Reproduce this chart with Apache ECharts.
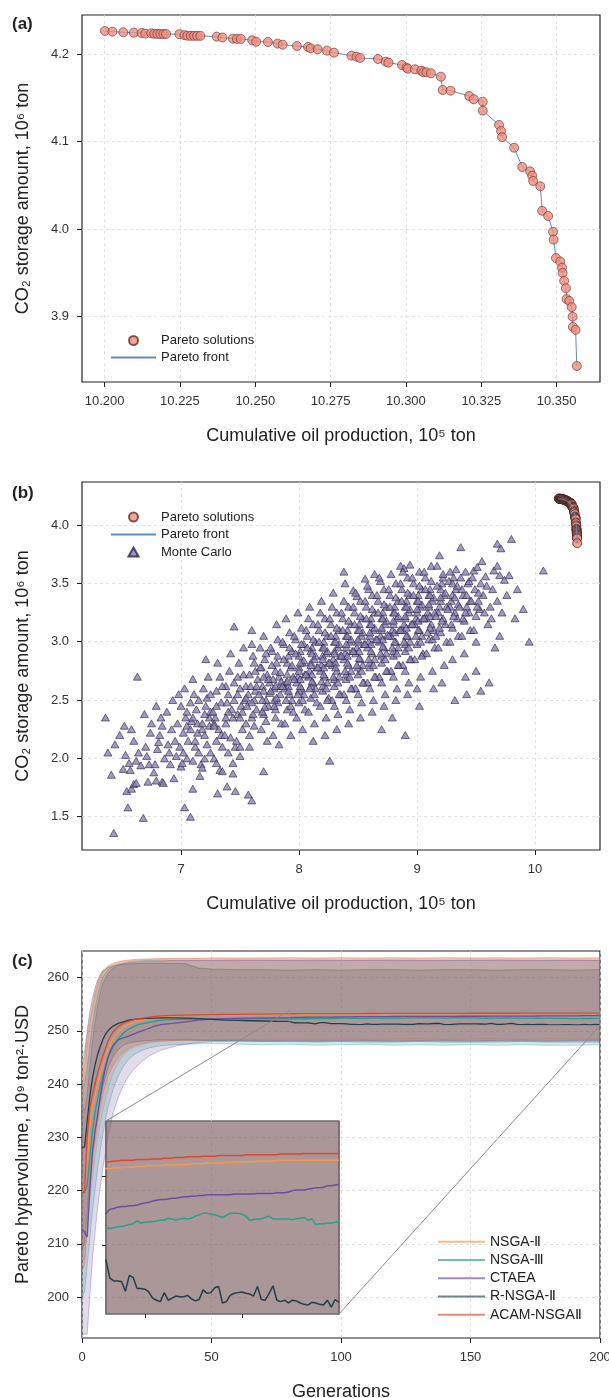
<!DOCTYPE html>
<html><head><meta charset="utf-8">
<script src="https://cdn.jsdelivr.net/npm/echarts@6/dist/echarts.min.js"></script>
<style>html,body{margin:0;padding:0;background:#fff}#c{width:609px;height:1398px}</style>
</head><body><div id="c"></div>
<script>
// ---------------- DATA ----------------
// Panel (a)/(b): Pareto solutions (cumulative oil production 1e5 ton, CO2 storage 1e6 ton)
const paretoX = [10.2001,10.2026,10.2062,10.2097,10.2123,10.2135,10.2155,10.2165,10.2175,10.2185,10.2195,10.2204,10.2248,10.2265,10.2275,10.2286,10.2297,10.2307,10.2318,10.2372,10.2391,10.2426,10.2439,10.2452,10.2490,10.2503,10.2542,10.2574,10.2591,10.2638,10.2675,10.2684,10.2707,10.2738,10.2761,10.2819,10.2836,10.2848,10.2907,10.2933,10.2942,10.2987,10.3002,10.3006,10.3030,10.3051,10.3058,10.3068,10.3083,10.3116,10.3122,10.3148,10.3210,10.3225,10.3255,10.3255,10.3309,10.3316,10.3319,10.3359,10.3386,10.3412,10.3419,10.3422,10.3446,10.3452,10.3472,10.3488,10.3490,10.3498,10.3512,10.3518,10.3520,10.3525,10.3531,10.3533,10.3542,10.3550,10.3553,10.3554,10.3563,10.3567];
const paretoY = [4.2263,4.2255,4.2248,4.2243,4.2240,4.2233,4.2236,4.2230,4.2230,4.2228,4.2228,4.2228,4.2226,4.2215,4.2208,4.2207,4.2207,4.2207,4.2207,4.2198,4.2188,4.2175,4.2172,4.2172,4.2156,4.2140,4.2137,4.2118,4.2106,4.2091,4.2080,4.2065,4.2054,4.2038,4.2015,4.1981,4.1969,4.1954,4.1943,4.1912,4.1901,4.1874,4.1844,4.1832,4.1825,4.1809,4.1791,4.1791,4.1780,4.1741,4.1589,4.1581,4.1520,4.1483,4.1456,4.1353,4.1190,4.1120,4.1050,4.0930,4.0710,4.0660,4.0610,4.0550,4.0490,4.0210,4.0150,3.9970,3.9880,3.9670,3.9630,3.9560,3.9500,3.9410,3.9325,3.9203,3.9180,3.9110,3.9000,3.8883,3.8850,3.8438];

// Panel (b): Monte Carlo samples [oil, CO2]
const monteCarlo = [
[6.36,2.35],[6.38,2.05],[6.41,1.86],[6.43,1.36],[6.44,2.12],
[6.51,1.91],[6.53,2.03],[6.55,1.58],[6.54,1.72],[6.48,2.2],[6.52,2.28],
[6.56,1.96],[6.57,1.9],[6.58,1.74],[6.6,1.78],[6.62,1.79],[6.63,2.7],[6.6,2.15],[6.64,2.05],[6.58,2.25],[6.62,1.98],
[6.66,1.94],[6.68,1.49],[6.72,1.8],[6.73,1.95],[6.7,2.1],[6.74,2.22],[6.69,2.38],[6.71,2.02],[6.75,2.3],
[6.77,1.88],[6.78,1.95],[6.79,1.81],[6.84,1.8],[6.85,1.79],[6.8,2.08],[6.82,2.2],[6.83,2.35],[6.79,2.45],[6.86,2.0],[6.81,2.14],[6.84,2.28],
[6.94,1.83],[6.9,2.05],[6.92,2.25],[6.88,2.4],[6.95,2.15],[6.91,1.95],[6.97,2.3],[6.93,2.5],[6.89,2.12],[6.96,2.02],
[7.0,1.93],[7.01,1.96],[7.03,1.58],[6.99,2.1],[7.02,2.22],[7.04,2.35],[7.05,2.0],[7.0,2.45],[7.03,2.6],[7.06,2.15],[7.02,2.05],[7.05,2.28],[6.98,2.55],
[7.08,1.5],[7.1,1.74],[7.16,1.85],[7.1,1.98],[7.12,2.1],[7.14,2.22],[7.09,2.32],[7.13,2.42],[7.11,2.55],[7.15,2.05],[7.1,2.68],[7.14,2.3],[7.17,1.95],[7.12,2.15],[7.08,2.25],
[7.2,2.0],[7.22,2.12],[7.18,2.25],[7.24,2.35],[7.21,2.45],[7.19,2.6],[7.23,2.7],[7.2,2.2],[7.25,2.05],[7.22,2.52],[7.18,1.92],[7.24,2.28],[7.21,2.85],[7.25,2.4],
[7.31,1.7],[7.33,1.9],[7.35,1.89],[7.28,2.0],[7.3,2.15],[7.32,2.25],[7.29,2.35],[7.34,2.48],[7.3,2.58],[7.33,2.7],[7.27,2.4],[7.35,2.1],[7.31,2.82],[7.28,2.3],[7.34,2.2],[7.3,1.96],
[7.39,1.76],[7.44,1.87],[7.44,1.96],[7.46,1.72],[7.45,3.13],[7.4,2.05],[7.42,2.18],[7.38,2.3],[7.43,2.42],[7.4,2.55],[7.45,2.65],[7.41,2.75],[7.37,2.2],[7.44,2.35],[7.39,2.48],[7.42,2.9],[7.46,2.1],[7.38,2.62],
[7.5,2.1],[7.52,2.25],[7.48,2.38],[7.54,2.5],[7.5,2.6],[7.53,2.72],[7.49,2.82],[7.55,2.3],[7.51,2.45],[7.47,2.15],[7.53,2.95],[7.5,2.02],[7.55,2.62],[7.48,2.55],[7.52,2.4],
[7.57,1.69],[7.6,1.64],[7.58,2.2],[7.6,2.35],[7.62,2.5],[7.59,2.62],[7.63,2.75],[7.61,2.88],[7.64,2.42],[7.57,2.55],[7.6,2.98],[7.62,2.28],[7.65,2.68],[7.58,2.1],[7.63,2.58],[7.6,3.1],
[7.7,1.89],[7.68,2.25],[7.7,2.38],[7.72,2.5],[7.69,2.62],[7.73,2.72],[7.71,2.85],[7.67,2.95],[7.74,2.45],[7.7,2.58],[7.72,2.32],[7.68,2.78],[7.75,2.65],[7.7,3.05],[7.73,2.15],[7.69,2.5],
[7.78,2.2],[7.8,2.35],[7.82,2.48],[7.79,2.6],[7.83,2.7],[7.81,2.82],[7.77,2.92],[7.84,2.55],[7.8,2.42],[7.82,3.02],[7.78,2.68],[7.85,2.3],[7.8,2.75],[7.83,2.12],[7.79,2.5],[7.81,3.15],[7.84,2.62],
[7.88,2.3],[7.9,2.42],[7.92,2.55],[7.89,2.65],[7.93,2.78],[7.91,2.88],[7.87,2.98],[7.94,2.5],[7.9,2.72],[7.92,3.08],[7.88,2.6],[7.95,2.4],[7.9,2.82],[7.93,2.2],[7.89,3.2],[7.91,2.62],[7.94,2.92],
[7.98,2.35],[8.0,2.48],[8.02,2.6],[7.99,2.7],[8.03,2.82],[8.01,2.92],[7.97,3.02],[8.04,2.55],[8.0,2.78],[8.02,3.12],[7.98,2.65],[8.05,2.42],[8.0,2.88],[8.03,2.25],[7.99,3.25],[8.01,2.68],[8.04,2.98],[8.0,2.58],
[8.08,2.4],[8.1,2.52],[8.12,2.65],[8.09,2.75],[8.13,2.85],[8.11,2.95],[8.07,3.05],[8.14,2.6],[8.1,2.82],[8.12,3.15],[8.08,2.7],[8.15,2.48],[8.1,2.92],[8.13,2.3],[8.09,3.3],[8.11,2.72],[8.14,3.0],[8.1,2.62],[8.12,2.15],
[8.18,2.45],[8.2,2.58],[8.22,2.7],[8.19,2.8],[8.23,2.9],[8.21,3.0],[8.17,3.1],[8.24,2.65],[8.2,2.88],[8.22,3.2],[8.18,2.75],[8.25,2.52],[8.2,2.95],[8.23,2.35],[8.19,3.35],[8.26,1.98],[8.21,2.78],[8.24,3.05],[8.2,2.62],[8.22,2.2],
[8.28,2.5],[8.3,2.62],[8.32,2.75],[8.29,2.85],[8.33,2.95],[8.31,3.05],[8.27,3.15],[8.34,2.7],[8.3,2.92],[8.32,3.25],[8.28,2.8],[8.35,2.55],[8.3,3.0],[8.33,2.38],[8.29,3.42],[8.31,2.82],[8.34,3.1],[8.3,2.68],[8.32,2.25],
[8.38,2.55],[8.4,2.68],[8.42,2.8],[8.39,2.9],[8.43,3.0],[8.41,3.1],[8.37,3.2],[8.44,2.75],[8.4,2.95],[8.42,3.3],[8.38,2.85],[8.45,2.6],[8.4,3.05],[8.43,2.42],[8.39,3.5],[8.46,3.44],[8.41,2.88],[8.44,3.15],[8.4,2.72],[8.42,2.3],[8.38,3.6],
[8.49,3.39],[8.48,2.6],[8.5,2.72],[8.52,2.85],[8.49,2.95],[8.53,3.05],[8.51,3.15],[8.47,3.25],[8.54,2.8],[8.5,3.0],[8.52,3.35],[8.48,2.9],[8.55,2.65],[8.5,3.1],[8.53,2.48],[8.56,3.54],[8.51,2.92],[8.54,3.2],[8.5,2.78],[8.52,2.35],
[8.64,3.58],[8.58,2.65],[8.6,2.78],[8.62,2.9],[8.59,3.0],[8.63,3.1],[8.61,3.2],[8.57,3.3],[8.64,2.85],[8.6,3.05],[8.62,3.4],[8.58,2.95],[8.65,2.7],[8.6,3.15],[8.63,2.5],[8.61,2.98],[8.64,3.25],[8.6,2.82],[8.62,2.4],[8.59,3.45],
[8.68,2.7],[8.7,2.82],[8.72,2.95],[8.69,3.05],[8.73,3.15],[8.71,3.25],[8.67,3.35],[8.74,2.9],[8.7,3.1],[8.72,3.45],[8.68,3.0],[8.75,2.75],[8.7,3.2],[8.73,2.55],[8.71,3.02],[8.74,3.3],[8.7,2.88],[8.72,2.45],[8.69,3.52],[8.7,2.25],
[8.78,2.75],[8.8,2.88],[8.82,3.0],[8.79,3.1],[8.83,3.2],[8.81,3.3],[8.77,3.4],[8.84,2.95],[8.8,3.15],[8.82,3.5],[8.78,3.05],[8.85,2.8],[8.8,3.25],[8.83,2.6],[8.81,3.08],[8.84,3.35],[8.8,2.92],[8.82,2.5],[8.86,3.65],[8.79,2.35],
[8.89,3.63],[8.94,3.66],[8.88,2.8],[8.9,2.92],[8.92,3.05],[8.89,3.15],[8.93,3.25],[8.91,3.35],[8.87,3.45],[8.94,3.0],[8.9,3.2],[8.92,3.55],[8.88,3.1],[8.95,2.85],[8.9,3.3],[8.93,2.65],[8.91,3.12],[8.94,3.4],[8.9,2.98],[8.92,2.55],[8.9,2.2],
[8.98,2.85],[9.0,2.98],[9.02,3.1],[8.99,3.2],[9.03,3.3],[9.01,3.4],[8.97,3.5],[9.04,3.05],[9.0,3.25],[9.02,3.6],[8.98,3.15],[9.05,2.9],[9.0,3.35],[9.03,2.7],[9.01,3.18],[9.04,3.45],[9.0,2.6],[9.02,2.45],
[9.08,2.9],[9.1,3.02],[9.12,3.15],[9.09,3.25],[9.13,3.35],[9.11,3.45],[9.07,3.55],[9.14,3.1],[9.1,3.3],[9.12,3.65],[9.08,3.2],[9.15,2.95],[9.1,3.4],[9.13,2.75],[9.11,3.22],[9.14,2.6],
[9.19,3.74],[9.17,3.65],[9.18,2.95],[9.2,3.08],[9.22,3.2],[9.19,3.3],[9.23,3.4],[9.21,3.5],[9.24,3.15],[9.2,3.35],[9.18,3.25],[9.25,3.0],[9.2,3.45],[9.23,2.8],[9.21,2.65],[9.22,3.55],
[9.28,3.6],[9.28,3.0],[9.3,3.12],[9.32,3.25],[9.29,3.35],[9.33,3.45],[9.31,3.55],[9.34,3.2],[9.3,3.4],[9.28,3.3],[9.35,3.05],[9.3,2.85],[9.32,2.5],[9.33,3.62],
[9.37,3.81],[9.38,3.05],[9.4,3.18],[9.42,3.3],[9.39,3.4],[9.43,3.5],[9.41,3.6],[9.44,3.25],[9.4,2.9],[9.42,2.55],[9.38,3.45],[9.45,3.1],[9.41,2.7],
[9.48,3.61],[9.55,3.69],[9.51,3.64],[9.58,3.56],[9.48,3.1],[9.5,3.22],[9.52,3.35],[9.49,3.45],[9.53,3.28],[9.5,3.0],[9.54,2.58],[9.5,2.75],[9.56,3.4],
[9.65,3.61],[9.68,3.65],[9.7,3.57],[9.62,3.3],[9.6,3.15],[9.64,3.45],[9.66,2.95],[9.61,2.65],[9.68,3.35],[9.63,3.2],[9.68,3.84],[9.71,3.8],[9.74,3.53],[9.78,3.57],[9.72,3.25],[9.76,3.4],[9.7,3.05],
[9.8,3.88],[9.83,3.2],[9.9,3.28],[10.07,3.61],[9.85,3.45],[9.95,3.0],
[7.05,2.4],[7.1,2.35],[7.15,2.5],[7.2,2.38],[7.25,2.55],[7.3,2.45],[7.35,2.62],[7.4,2.4],[7.45,2.5],[7.5,2.35],[7.28,2.28],[7.18,2.3],[7.38,2.35],[7.48,2.7],[7.08,2.48],
[7.56,2.45],[7.61,2.38],[7.64,2.62],[7.58,2.72],[7.62,2.82],[7.55,2.52],[7.6,2.48],
[7.66,2.55],[7.71,2.44],[7.74,2.68],[7.67,2.78],[7.72,2.9],[7.69,2.4],[7.75,2.56],[7.7,2.7],
[7.76,2.58],[7.81,2.52],[7.84,2.74],[7.77,2.8],[7.82,2.88],[7.79,2.45],[7.85,2.66],[7.8,2.62],[7.76,2.95],
[7.86,2.62],[7.91,2.58],[7.94,2.8],[7.87,2.85],[7.92,2.95],[7.89,2.5],[7.95,2.7],[7.9,2.66],[7.86,3.0],[7.93,2.45],
[7.96,2.68],[8.01,2.62],[8.04,2.84],[7.97,2.9],[8.02,2.98],[7.99,2.55],[8.05,2.72],[8.0,2.75],[7.96,3.05],[8.03,2.5],[8.01,2.82],
[8.06,2.72],[8.11,2.66],[8.14,2.88],[8.07,2.95],[8.12,3.02],[8.09,2.6],[8.15,2.78],[8.1,2.8],[8.06,3.1],[8.13,2.55],[8.11,2.9],[8.08,3.2],
[8.16,2.78],[8.21,2.72],[8.24,2.92],[8.17,3.0],[8.22,3.08],[8.19,2.66],[8.25,2.82],[8.2,2.85],[8.16,3.15],[8.23,2.6],[8.21,2.95],[8.18,3.25],[8.24,2.5],
[8.26,2.82],[8.31,2.78],[8.34,2.98],[8.27,3.05],[8.32,3.12],[8.29,2.7],[8.35,2.88],[8.3,2.9],[8.26,3.2],[8.33,2.65],[8.31,3.0],[8.28,3.3],[8.34,2.55],[8.3,2.45],
[8.36,2.88],[8.41,2.82],[8.44,3.02],[8.37,3.1],[8.42,3.18],[8.39,2.75],[8.45,2.92],[8.4,2.98],[8.36,3.25],[8.43,2.7],[8.41,3.05],[8.38,3.35],[8.44,2.6],[8.4,2.5],
[8.46,2.92],[8.51,2.86],[8.54,3.08],[8.47,3.15],[8.52,3.22],[8.49,2.8],[8.55,2.98],[8.5,3.02],[8.46,3.3],[8.53,2.75],[8.51,3.1],[8.48,3.42],[8.54,2.65],[8.5,2.55],
[8.56,2.98],[8.61,2.92],[8.64,3.12],[8.57,3.2],[8.62,3.28],[8.59,2.85],[8.65,3.02],[8.6,3.08],[8.56,3.35],[8.63,2.8],[8.61,3.15],[8.58,3.48],[8.64,2.7],[8.6,2.6],
[8.66,3.02],[8.71,2.96],[8.74,3.18],[8.67,3.25],[8.72,3.32],[8.69,2.9],[8.75,3.06],[8.7,3.12],[8.66,3.4],[8.73,2.85],[8.71,3.2],[8.68,3.55],[8.74,2.75],[8.7,2.65],
[8.76,3.05],[8.81,3.0],[8.84,3.22],[8.77,3.3],[8.82,3.38],[8.79,2.95],[8.85,3.1],[8.8,3.18],[8.76,3.45],[8.83,2.9],[8.81,3.25],[8.78,3.58],[8.84,2.8],[8.8,2.7],
[8.86,3.1],[8.91,3.05],[8.94,3.28],[8.87,3.35],[8.92,3.42],[8.89,3.0],[8.95,3.15],[8.9,3.22],[8.86,3.5],[8.93,2.95],[8.91,3.3],[8.88,3.6],[8.94,2.85],[8.9,2.75],
[8.96,3.15],[9.01,3.1],[9.04,3.32],[8.97,3.4],[9.02,3.48],[8.99,3.05],[9.05,3.2],[9.0,3.28],[8.96,3.55],[9.03,3.0],[9.01,3.35],[9.04,2.88],
[9.06,3.2],[9.11,3.12],[9.14,3.38],[9.07,3.45],[9.12,3.52],[9.09,3.08],[9.15,3.25],[9.1,3.32],[9.06,3.6],[9.13,3.02],[9.11,3.4],
[9.16,3.22],[9.21,3.18],[9.24,3.42],[9.17,3.48],[9.22,3.58],[9.19,3.12],[9.25,3.3],[9.2,3.38],[9.16,3.05],
[9.26,3.28],[9.31,3.22],[9.34,3.48],[9.27,3.52],[9.32,3.38],[9.29,3.15],[9.35,3.32],[9.3,3.5],
[9.36,3.3],[9.41,3.25],[9.44,3.52],[9.37,3.55],[9.42,3.4],[9.39,3.2],[9.45,3.35],
[9.46,3.35],[9.51,3.3],[9.54,3.5],[9.47,3.55],[9.52,3.42],[9.57,3.25],[9.59,3.48]
];

// Panel (c): generations and mean Pareto hypervolume per algorithm
const gens = [0,1,2,3,4,5,6,7,8,9,10,11,12,14,16,18,20,22,25,28,31,35,40,45,50,55,60,65,70,75,
80,82,84,86,88,90,92,94,96,98,100,102,104,106,108,110,112,114,116,118,120,122,124,126,128,130,132,134,136,138,140,142,144,146,148,150,152,154,156,158,160,162,164,166,168,170,172,174,176,178,180,182,184,186,188,190,192,194,196,198,200];
const meanNSGA2 = [219.6,220.2,226,232,235.5,237.8,240,241.8,243.5,245,246.4,247.5,248.5,249.8,250.6,251.2,251.6,251.9,252.2,252.5,252.65,252.8,252.85,252.9,252.95,253.0,253.02,253.05,253.07,253.09,
253.11,253.11,253.12,253.12,253.12,253.13,253.13,253.13,253.14,253.14,
253.14,253.15,253.15,253.15,253.15,253.16,253.16,253.16,253.17,253.17,
253.17,253.17,253.18,253.18,253.18,253.18,253.19,253.19,253.19,253.19,
253.19,253.20,253.20,253.20,253.20,253.21,253.21,253.21,253.21,253.22,
253.22,253.22,253.22,253.22,253.23,253.23,253.23,253.23,253.23,253.23,
253.23,253.23,253.23,253.23,253.23,253.23,253.23,253.23,253.23,253.23,253.23];
const meanNSGA3 = [219.4,219.7,221,226,231,234.5,237,239.5,241.5,243.3,244.8,246,247,248.5,249.6,250.3,250.8,251.2,251.5,251.8,252.0,252.1,252.15,252.2,252.22,252.23,252.24,252.25,252.25,252.26,
252.26,252.24,252.25,252.27,252.27,252.28,252.30,252.31,252.35,252.32,
252.33,252.34,252.34,252.35,252.36,252.36,252.39,252.38,252.36,252.38,
252.39,252.38,252.39,252.42,252.44,252.46,252.46,252.45,252.44,252.42,
252.40,252.43,252.46,252.46,252.46,252.45,252.42,252.36,252.37,252.38,
252.38,252.40,252.42,252.38,252.38,252.38,252.38,252.38,252.37,252.38,
252.39,252.40,252.36,252.38,252.30,252.31,252.31,252.32,252.32,252.33,252.33];
const meanCTAEA = [212.8,212.2,211.3,220,227,231,234,237.5,240.5,243,245,246.3,247.3,248.3,248.7,249.0,249.4,249.8,250.3,250.9,251.2,251.4,251.7,252.0,252.2,252.28,252.33,252.38,252.42,252.44,
252.46,252.52,252.53,252.55,252.56,252.56,252.57,252.57,252.58,252.60,
252.61,252.62,252.64,252.65,252.66,252.66,252.67,252.68,252.68,252.69,
252.70,252.70,252.71,252.71,252.72,252.72,252.73,252.73,252.73,252.73,
252.73,252.73,252.73,252.74,252.74,252.74,252.74,252.74,252.74,252.75,
252.75,252.75,252.75,252.75,252.76,252.76,252.76,252.77,252.79,252.80,
252.80,252.80,252.81,252.82,252.83,252.83,252.84,252.86,252.86,252.87,252.88];
const meanRNSGA2 = [228,228.2,233,237.5,241,243.5,245.5,247,248.3,249.3,250,250.5,250.9,251.4,251.7,252.0,252.15,252.25,252.35,252.4,252.45,252.45,252.4,252.3,252.15,252.0,251.95,251.9,251.85,251.8,
251.78,251.52,251.48,251.48,251.47,251.33,251.56,251.53,251.37,251.37,
251.36,251.32,251.23,251.20,251.18,251.31,251.20,251.23,251.26,251.25,
251.25,251.27,251.22,251.19,251.21,251.35,251.30,251.31,251.38,251.40,
251.16,251.18,251.27,251.30,251.31,251.32,251.30,251.29,251.26,251.40,
251.21,251.20,251.30,251.41,251.20,251.18,251.20,251.16,251.20,251.19,
251.16,251.14,251.13,251.17,251.16,251.14,251.13,251.20,251.10,251.21,251.17];
const meanACAM = [219.5,220,230,235.5,237.8,240,242,243.8,245.2,246.6,248,249,249.8,250.8,251.4,251.8,252.1,252.3,252.5,252.7,252.8,252.9,252.95,253.0,253.05,253.08,253.1,253.13,253.15,253.18,
253.20,253.21,253.22,253.22,253.23,253.23,253.23,253.23,253.24,253.24,
253.24,253.24,253.25,253.25,253.25,253.26,253.26,253.26,253.27,253.27,
253.27,253.28,253.28,253.28,253.28,253.29,253.29,253.29,253.29,253.30,
253.30,253.30,253.30,253.30,253.30,253.30,253.31,253.31,253.31,253.31,
253.31,253.31,253.31,253.31,253.31,253.32,253.32,253.32,253.32,253.32,
253.32,253.33,253.33,253.33,253.33,253.33,253.33,253.33,253.33,253.33,253.33];

// Panel (c): spread bands (lower / upper) per algorithm
const bandGens = [0,1,2,3,4,5,6,7,8,10,12,14,16,18,20,23,26,30,35,40,45,50,60,70,80,90,100,110,120,130,140,150,160,170,180,190,200];
const loNSGA2 = [207,207,212,218,222,226,229.5,232.5,235,239,242,244,245.5,246.3,246.9,247.4,247.7,248.0,248.1,248.2,248.2,248.25,248.3,248.2,248.3,248.2,248.3,248.25,248.3,248.2,248.3,248.3,248.2,248.3,248.25,248.3,248.3];
const hiNSGA2 = [242,243,247,251,254,256.5,258.5,260,261,262,262.6,262.9,263.1,263.2,263.3,263.4,263.5,263.55,263.6,263.6,263.6,263.65,263.6,263.65,263.6,263.65,263.6,263.6,263.65,263.6,263.6,263.65,263.6,263.6,263.65,263.6,263.6];
const loNSGA3 = [200,201,206,211,216,220,224,227.5,230.5,235.5,239,241.5,243.3,244.6,245.5,246.3,246.8,247.2,247.4,247.5,247.55,247.6,247.5,247.4,247.5,247.3,247.4,247.5,247.3,247.4,247.3,247.4,247.3,247.4,247.3,247.3,247.4];
const hiNSGA3 = [240,240,243,247,251,254,256.5,258.5,260,261.5,262.2,262.6,262.8,263,263.1,263.2,263.25,263.3,263.3,263.3,263.3,263.3,263.35,263.3,263.3,263.35,263.3,263.3,263.35,263.3,263.3,263.3,263.35,263.3,263.3,263.3,263.3];
const loCTAEA = [193,193,193,200,207,212,216.5,220.5,224,230,234.5,237.5,239.8,241.5,242.8,244.2,245.3,246.3,247,247.5,247.8,248,248.1,248.1,248.2,248.1,248.2,248.2,248.1,248.2,248.2,248.1,248.2,248.2,248.1,248.2,248.2];
const hiCTAEA = [236,235,238,243,248,251.5,254.5,257,258.8,260.8,261.8,262.3,262.6,262.8,262.9,263.0,263.1,263.1,263.2,263.2,263.2,263.2,263.2,263.25,263.2,263.2,263.2,263.25,263.2,263.2,263.2,263.25,263.2,263.2,263.2,263.25,263.2];
const loRNSGA2 = [209,210,216,222,227,231,234,237,239.5,243,245.2,246.5,247.3,247.7,247.9,248.1,248.2,248.3,248.3,248.3,248.25,248.2,248.1,248.0,248.0,247.9,248.0,247.9,247.9,248.0,247.9,247.9,247.9,248.0,247.9,247.9,247.9];
const hiRNSGA2 = [246,246,250,253.5,256,258,259.5,260.5,261.2,261.9,262.2,262.4,262.5,262.6,262.6,262.7,262.7,262.7,262.7,262.6,261.8,261.6,261.5,261.5,261.4,261.5,261.4,261.5,261.5,261.4,261.5,261.5,261.4,261.5,261.5,261.4,261.5];
const loACAM = [205,206,213,220,225,229,232.5,235.5,238,241.5,243.5,245,246,246.7,247.2,247.6,247.9,248.1,248.2,248.3,248.3,248.4,248.4,248.4,248.5,248.4,248.5,248.4,248.5,248.5,248.4,248.5,248.5,248.4,248.5,248.5,248.5];
const hiACAM = [244,245,249,252,254.5,257,259,260.5,261.3,262.2,262.7,263.0,263.2,263.3,263.4,263.5,263.5,263.55,263.6,263.6,263.65,263.7,263.7,263.7,263.75,263.7,263.75,263.7,263.75,263.7,263.75,263.7,263.75,263.7,263.75,263.7,263.75];

// tick values
const aXTicks = [10.200,10.225,10.250,10.275,10.300,10.325,10.350];
const aYTicks = [3.9,4.0,4.1,4.2];
const bXTicks = [7,8,9,10];
const bYTicks = [1.5,2.0,2.5,3.0,3.5,4.0];
const cXTicks = [0,50,100,150,200];
const cYTicks = [200,210,220,230,240,250,260];
const insetXTicks = [100,150];
const insetYTicks = [252,253];
const insetXRange = [80,200];
const insetYRange = [251.0,253.8];

// ---------------- CHART ----------------
const FONT = '"Liberation Sans", Arial, Helvetica, sans-serif';
const algNames = ['NSGA-Ⅱ','NSGA-Ⅲ','CTAEA','R-NSGA-Ⅱ','ACAM-NSGAⅡ'];
const lineColors = ['#f39a4a','#24a08c','#6b4ea3','#20404d','#e0452f'];
const bandRGB = [[244,162,89],[42,157,143],[106,76,156],[38,70,83],[220,90,69]];
const bandFill = bandRGB.map(c => 'rgba(' + c.join(',') + ',0.2)');
const bandEdge = bandRGB.map(c => 'rgba(' + c.join(',') + ',0.42)');
const means = [meanNSGA2, meanNSGA3, meanCTAEA, meanRNSGA2, meanACAM];
const los = [loNSGA2, loNSGA3, loCTAEA, loRNSGA2, loACAM];
const his = [hiNSGA2, hiNSGA3, hiCTAEA, hiRNSGA2, hiACAM];

function mkAxis(gi, min, max, ticks, fmt, extra) {
  return Object.assign({
    type: 'value', gridIndex: gi, min: min, max: max,
    axisLine: {show: false, onZero: false},
    axisTick: {show: true, length: 5, customValues: ticks, lineStyle: {color: '#222', width: 1}},
    axisLabel: {show: true, customValues: ticks, formatter: fmt, color: '#333', fontSize: 13, fontFamily: FONT, margin: 13},
    splitLine: {show: true, lineStyle: {color: '#d9d9d9', width: 0.8, type: [3, 3]}}
  }, extra || {});
}
const xName = (t) => ({name: t, nameLocation: 'middle', nameGap: 45, nameTextStyle: {fontSize: 18, color: '#222', fontFamily: FONT}});
const yName = (t) => ({name: t, nameLocation: 'middle', nameGap: 50, nameTextStyle: {fontSize: 18, color: '#222', fontFamily: FONT}});

const gridStyle = {show: true, borderColor: '#222', borderWidth: 1.2, backgroundColor: 'transparent', containLabel: false, outerBoundsMode: 'none'};

function bandRender(k) {
  return function (params, api) {
    if (params.dataIndex !== 0) return null;
    const top = [], bot = [];
    for (let i = 0; i < bandGens.length; i++) {
      top.push(api.coord([bandGens[i], his[k][i]]));
      bot.push(api.coord([bandGens[i], los[k][i]]));
    }
    const poly = top.concat(bot.slice().reverse());
    const cs = params.coordSys;
    return {
      type: 'group',
      clipPath: {type: 'rect', shape: {x: cs.x, y: cs.y, width: cs.width, height: cs.height}},
      children: [
        {type: 'polygon', shape: {points: poly}, style: {fill: bandFill[k], stroke: null}},
        {type: 'polyline', shape: {points: top}, style: {stroke: bandEdge[k], fill: null, lineWidth: 0.8}},
        {type: 'polyline', shape: {points: bot}, style: {stroke: bandEdge[k], fill: null, lineWidth: 0.8}}
      ]
    };
  };
}

const series = [];
// (a)
series.push({type: 'line', name: 'Pareto front', xAxisIndex: 0, yAxisIndex: 0, data: paretoX.map((x, i) => [x, paretoY[i]]),
  symbol: 'none', lineStyle: {color: '#5b8ec4', width: 1}, z: 2});
series.push({type: 'scatter', name: 'Pareto solutions', xAxisIndex: 0, yAxisIndex: 0, data: paretoX.map((x, i) => [x, paretoY[i]]),
  symbol: 'circle', symbolSize: 9, itemStyle: {color: '#f08c7d', borderColor: '#5e3630', borderWidth: 0.8}, z: 3});
// (b)
series.push({type: 'scatter', name: 'Monte Carlo', xAxisIndex: 1, yAxisIndex: 1, data: monteCarlo,
  symbol: 'triangle', symbolSize: [8, 7], itemStyle: {color: '#8c80b5', borderColor: '#271f3d', borderWidth: 0.75}, z: 2});
series.push({type: 'scatter', name: 'Pareto solutions', xAxisIndex: 1, yAxisIndex: 1, data: paretoX.map((x, i) => [x, paretoY[i]]),
  symbol: 'circle', symbolSize: 9, itemStyle: {color: '#f08c7d', borderColor: '#3a2220', borderWidth: 0.9}, z: 3});
series.push({type: 'line', name: 'Pareto front', xAxisIndex: 1, yAxisIndex: 1, data: paretoX.map((x, i) => [x, paretoY[i]]),
  symbol: 'none', lineStyle: {color: '#5b8ec4', width: 1}, z: 4});

// (c) bands + lines, main (axis 2) and inset (axis 3)
[2, 3].forEach(function (ai) {
  for (let k = 0; k < 5; k++) {
    series.push({type: 'custom', name: '_band' + k, xAxisIndex: ai, yAxisIndex: ai, silent: true, z: 1,
      data: bandGens.map((g, i) => [g, los[k][i], his[k][i]]), encode: {x: 0, y: [1, 2]},
      renderItem: bandRender(k)});
  }
  for (let k = 0; k < 5; k++) {
    series.push({type: 'line', name: algNames[k], xAxisIndex: ai, yAxisIndex: ai, symbol: 'none',
      data: gens.map((g, i) => [g, means[k][i]]), lineStyle: {width: ai === 3 ? 1.5 : 1.3, color: lineColors[k]},
      itemStyle: {color: lineColors[k]}, z: 3});
  }
});
// zoom rectangle on the main plot
series.push({type: 'line', name: '_zoomrect', xAxisIndex: 2, yAxisIndex: 2, symbol: 'none', silent: true,
  data: [[insetXRange[0], insetYRange[0]], [insetXRange[1], insetYRange[0]], [insetXRange[1], insetYRange[1]], [insetXRange[0], insetYRange[1]], [insetXRange[0], insetYRange[0]]],
  lineStyle: {color: '#8f9a9c', width: 0.9, opacity: 0.8}, z: 4});

const legendText = {fontSize: 13, color: '#222', fontFamily: FONT};
const noSym = {opacity: 0};
const option = {
  animation: false,
  backgroundColor: '#fff',
  grid: [
    Object.assign({left: 82, top: 15, width: 518, height: 367}, gridStyle),
    Object.assign({left: 82, top: 482, width: 518, height: 368}, gridStyle),
    Object.assign({left: 82, top: 951, width: 518, height: 387}, gridStyle),
    Object.assign({left: 106, top: 1121, width: 233, height: 193}, gridStyle)
  ],
  xAxis: [
    mkAxis(0, 10.1925, 10.3644, aXTicks, v => v.toFixed(3), xName('Cumulative oil production, 10⁵ ton')),
    mkAxis(1, 6.161, 10.55, bXTicks, v => String(Math.round(v)), xName('Cumulative oil production, 10⁵ ton')),
    mkAxis(2, 0, 200, cXTicks, v => String(Math.round(v)), xName('Generations')),
    mkAxis(3, insetXRange[0], insetXRange[1], insetXTicks, v => '', {axisLabel: {show: false}, splitLine: {show: false}, axisTick: {show: true, length: 4, customValues: insetXTicks, lineStyle: {color: '#222'}}})
  ],
  yAxis: [
    mkAxis(0, 3.8255, 4.2445, aYTicks, v => v.toFixed(1), yName('CO₂ storage amount, 10⁶ ton')),
    mkAxis(1, 1.215, 4.368, bYTicks, v => v.toFixed(1), yName('CO₂ storage amount, 10⁶ ton')),
    mkAxis(2, 192.3, 265.0, cYTicks, v => String(Math.round(v)), yName('Pareto hypervolume, 10⁹ ton²·USD')),
    mkAxis(3, insetYRange[0], insetYRange[1], insetYTicks, v => '', {axisLabel: {show: false}, splitLine: {show: false}, axisTick: {show: true, length: 4, customValues: insetYTicks, lineStyle: {color: '#222'}}})
  ],
  legend: [
    {orient: 'vertical', left: 105, top: 329, itemWidth: 45, itemHeight: 9, itemGap: 4, textStyle: legendText,
      data: ['Pareto solutions', {name: 'Pareto front', itemStyle: noSym}]},
    {orient: 'vertical', left: 105, top: 505.5, itemWidth: 45, itemHeight: 9, itemGap: 4.5, textStyle: legendText,
      data: ['Pareto solutions', {name: 'Pareto front', itemStyle: noSym},
             {name: 'Monte Carlo', icon: 'path://M5,0L10,9L0,9Z'}]},
    {orient: 'vertical', left: 432, top: 1229.7, itemWidth: 47, itemHeight: 14, itemGap: 4.25,
      textStyle: {fontSize: 14, color: '#222', fontFamily: FONT},
      data: algNames.map(n => ({name: n, itemStyle: noSym, lineStyle: {opacity: 0.65, width: 2}}))}
  ],
  graphic: [
    {type: 'text', id: 'la', left: 12, top: 16, style: {text: '(a)', font: 'bold 17px ' + FONT, fill: '#222'}},
    {type: 'text', id: 'lb', left: 12, top: 484.5, style: {text: '(b)', font: 'bold 17px ' + FONT, fill: '#222'}},
    {type: 'text', id: 'lc', left: 12, top: 952.5, style: {text: '(c)', font: 'bold 17px ' + FONT, fill: '#222'}}
  ],
  series: series
};

const chart = echarts.init(document.getElementById('c'), null, {renderer: 'canvas', width: 609, height: 1398});
chart.setOption(option);

// connector lines between the zoom rectangle and the inset
const p1 = chart.convertToPixel({gridIndex: 2}, [insetXRange[0], insetYRange[1]]);
const q1 = chart.convertToPixel({gridIndex: 3}, [insetXRange[0], insetYRange[1]]);
const p2 = chart.convertToPixel({gridIndex: 2}, [insetXRange[1], insetYRange[0]]);
const q2 = chart.convertToPixel({gridIndex: 3}, [insetXRange[1], insetYRange[0]]);
chart.setOption({graphic: [
  {type: 'line', id: 'conn1', z: 10, shape: {x1: q1[0], y1: q1[1], x2: p1[0], y2: p1[1]}, style: {stroke: '#8a8a8a', lineWidth: 1}},
  {type: 'line', id: 'conn2', z: 10, shape: {x1: q2[0], y1: q2[1], x2: p2[0], y2: p2[1]}, style: {stroke: '#8a8a8a', lineWidth: 1}}
]});
</script></body></html>
